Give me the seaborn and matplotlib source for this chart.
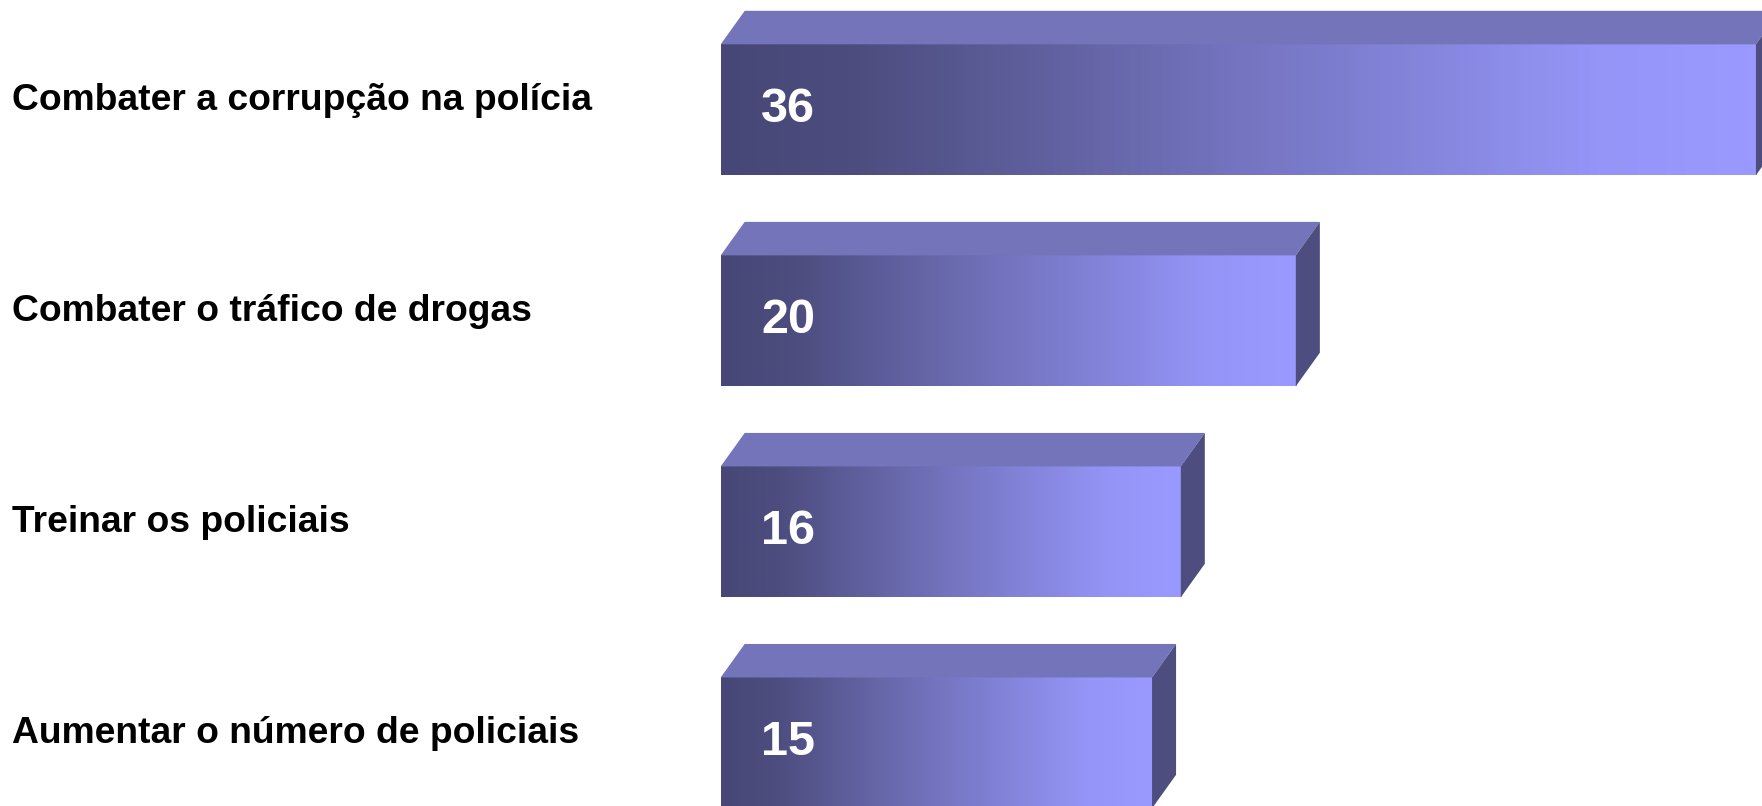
import numpy as np
import pandas as pd
import matplotlib
matplotlib.use("Agg")
import matplotlib.pyplot as plt
import matplotlib.transforms as mtransforms
from matplotlib.patches import Polygon
from matplotlib.colors import LinearSegmentedColormap
import seaborn as sns

# Data
categories = [
    "Combater a corrupção na polícia",
    "Combater o tráfico de drogas",
    "Treinar os policiais",
    "Aumentar o número de policiais",
]
values = [36, 20, 16, 15]

# Style
sns.set_theme(style="white")
plt.rcParams['font.family'] = ['Liberation Sans', 'DejaVu Sans']

df = pd.DataFrame({"categoria": categories, "valor": values})

W, H = 1762, 806
left_px = 720.7
fig = plt.figure(figsize=(W / 100, H / 100), dpi=100)
ax = fig.add_axes([left_px / W, 0, 1 - left_px / W, 1])

sns.barplot(data=df, x="valor", y="categoria", orient="h", width=0.62,
            color="#4a4a7a", ax=ax)
ax.set_xlim(0, 36.21)
ax.set_ylim(3.299, -0.52)
ax.axis("off")

# 3D depth in pixels -> data units
px_per_x = (W - left_px) / 36.21
px_per_y = H / (3.299 + 0.52)
dx = 24 / px_per_x
dy = 33.5 / px_per_y

cmap = LinearSegmentedColormap.from_list(
    "grad", [(0, "#474777"), (0.12, "#4c4c7e"), (0.5, "#7474c0"),
             (0.85, "#9595f8"), (1, "#9999ff")])
grad = np.linspace(0, 1, 256).reshape(1, -1)

bars = list(ax.patches)
for p, v in zip(bars, values):
    x0, y0 = p.get_x(), p.get_y()
    w, h = p.get_width(), p.get_height()
    p.set_facecolor("none")
    p.set_edgecolor("none")
    # front face with gradient
    ax.imshow(grad, cmap=cmap, extent=[x0, x0 + w, y0 + h, y0],
              aspect="auto", zorder=2, interpolation="bilinear")
    # top face
    top = Polygon([(x0, y0), (x0 + w, y0), (x0 + w + dx, y0 - dy), (x0 + dx, y0 - dy)],
                  closed=True, facecolor="#7474bb", edgecolor="none", zorder=2)
    ax.add_patch(top)
    # side face
    side = Polygon([(x0 + w, y0), (x0 + w + dx, y0 - dy), (x0 + w + dx, y0 + h - dy), (x0 + w, y0 + h)],
                   closed=True, facecolor="#4d4d80", edgecolor="none", zorder=2)
    ax.add_patch(side)
    # value label
    ax.annotate(f"{v}", xy=(x0, y0 + h / 2), xytext=(29, 0.5), textcoords="offset points",
                color="white", fontsize=35, fontweight="bold", ha="left", va="center", zorder=3)

ax.set_xlim(0, 36.21)
ax.set_ylim(3.299, -0.52)

# Category labels on the left
trans = mtransforms.blended_transform_factory(fig.transFigure, ax.transData)
for i, cat in enumerate(categories):
    ax.text(12 / W, i - 9.5 / px_per_y, cat, transform=trans, fontsize=26.8,
            fontweight="bold", color="black", ha="left", va="center")

fig.savefig("out.png", dpi=100)
plt.close()
